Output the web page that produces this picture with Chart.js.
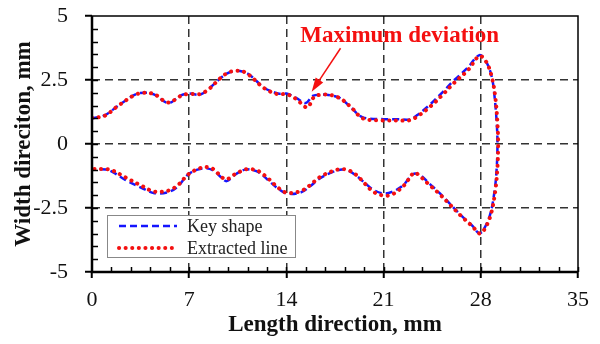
<!DOCTYPE html>
<html>
<head>
<meta charset="utf-8">
<script src="https://cdn.jsdelivr.net/npm/chart.js@4/dist/chart.umd.min.js"></script>
<style>
  html, body { margin: 0; padding: 0; background: #fff; }
  #wrap { width: 600px; height: 344px; }
</style>
</head>
<body>
<div id="wrap"><canvas id="myChart"></canvas></div>
<script>
// key shape outline (top edge left->right, tip, bottom edge right->left)
var keyX = [0, 0.9, 1.9, 3.1, 3.8, 4.5, 5.5, 6.4, 7.0, 7.8, 8.5, 9.1, 9.7, 10.3, 10.9, 11.4, 12.4, 13.4, 14.0, 14.7, 15.4, 15.9, 16.5, 17.2, 17.9, 18.7, 19.5, 21.0, 22.0, 22.9, 23.4, 24.3, 25.2, 26.0, 27.0, 27.9, 28.4, 28.8, 29.0, 29.15, 29.2,
            29.15, 29.0, 28.7, 28.3, 27.9, 27.4, 26.6, 25.8, 25.0, 24.3, 23.6, 23.1, 22.4, 21.6, 21.0, 20.3, 19.6, 19.06, 18.5, 18.0, 17.3, 16.4, 15.6, 15.0, 14.0, 13.3, 12.8, 12.0, 11.4, 11.0, 10.3, 9.7, 9.3, 8.8, 8.2, 7.6, 6.9, 6.2, 5.5, 4.5, 3.6, 2.4, 1.5, 1.0, 0];
var keyY = [1.0, 1.12, 1.5, 1.93, 2.0, 1.93, 1.6, 1.9, 1.97, 1.93, 2.2, 2.5, 2.75, 2.86, 2.82, 2.68, 2.2, 1.97, 1.97, 1.8, 1.6, 1.88, 1.93, 1.9, 1.78, 1.4, 1.04, 0.97, 0.97, 0.96, 1.12, 1.52, 2.0, 2.45, 2.95, 3.47, 3.2, 2.6, 1.8, 0.8, 0,
            -0.9, -1.8, -2.7, -3.25, -3.49, -3.2, -2.8, -2.35, -1.9, -1.55, -1.2, -1.18, -1.62, -1.87, -1.93, -1.8, -1.5, -1.25, -1.05, -1.0, -1.1, -1.35, -1.7, -1.9, -1.93, -1.7, -1.47, -1.1, -1.0, -1.0, -1.2, -1.45, -1.3, -1.05, -0.95, -1.0, -1.2, -1.65, -1.88, -1.92, -1.72, -1.4, -1.1, -1.0, -1.0];

// extracted line, read separately (slightly off the key shape)
var extX = [0, 0.9, 1.9, 3.1, 3.8, 4.5, 5.5, 6.4, 7.0, 7.8, 8.5, 9.1, 9.7, 10.3, 10.9, 11.4, 12.4, 13.4, 14.0, 14.7, 15.5, 16.0, 16.6, 17.3, 18.0, 18.8, 19.5, 21.0, 22.0, 22.9, 23.5, 24.4, 25.3, 26.1, 27.1, 27.9, 28.4, 28.8, 29.05, 29.2, 29.25,
            29.2, 29.05, 28.75, 28.35, 27.95, 27.4, 26.6, 25.8, 25.0, 24.3, 23.6, 23.2, 22.5, 21.7, 21.1, 20.3, 19.6, 19.06, 18.5, 18.0, 17.3, 16.4, 15.6, 15.0, 14.0, 13.3, 12.8, 12.0, 11.4, 11.0, 10.3, 9.7, 9.3, 8.8, 8.2, 7.6, 6.9, 6.2, 5.5, 4.5, 3.6, 2.4, 1.5, 1.0, 0];
var extY = [1.02, 1.1, 1.5, 1.92, 2.0, 1.94, 1.62, 1.88, 1.96, 1.95, 2.18, 2.5, 2.76, 2.86, 2.83, 2.66, 2.18, 1.94, 1.95, 1.76, 1.43, 1.84, 1.93, 1.9, 1.74, 1.36, 1.0, 0.92, 0.92, 0.93, 1.1, 1.48, 1.95, 2.4, 2.9, 3.44, 3.2, 2.6, 1.8, 0.8, 0,
            -0.9, -1.8, -2.7, -3.25, -3.5, -3.22, -2.82, -2.38, -1.94, -1.6, -1.25, -1.12, -1.6, -1.95, -2.02, -1.88, -1.52, -1.22, -1.03, -0.98, -1.06, -1.3, -1.65, -1.85, -1.9, -1.66, -1.4, -1.06, -0.98, -1.0, -1.18, -1.38, -1.28, -1.0, -0.9, -0.98, -1.2, -1.6, -1.82, -1.86, -1.64, -1.3, -1.04, -0.98, -0.98];

var xTicks = [0, 7, 14, 21, 28, 35];
var yTicks = [-5, -2.5, 0, 2.5, 5];
var legendLabels = ["Key shape", "Extracted line"];
var noteText = "Maximum deviation";
var noteAt = [15.0, 4.22];       // text left / middle, in data units
var arrowFrom = [17.9, 3.74];
var arrowTo = [15.82, 2.04];

function toPoints(xs, ys) {
    var pts = [];
    for (var i = 0; i < xs.length; i++) {
        pts.push({ x: xs[i], y: ys[i] });
    }
    return pts;
}

const serif = "'Liberation Serif', 'Times New Roman', serif";

// axis frame, minor ticks, legend box and the note
var extras = {
    id: "extras",
    afterDraw: function (chart) {
        var ctx = chart.ctx;
        var a = chart.chartArea;
        var xs = chart.scales.x, ys = chart.scales.y;
        ctx.save();
        ctx.strokeStyle = "#000";
        ctx.setLineDash([]);
        // minor ticks inside
        ctx.lineWidth = 1.5;
        for (var v = 1.4; v < 35; v += 1.4) {
            var px = Math.round(xs.getPixelForValue(v)) + 0.5;
            ctx.beginPath();
            ctx.moveTo(px, a.bottom);
            ctx.lineTo(px, a.bottom - 5);
            ctx.stroke();
        }
        for (var w = -4.5; w < 5; w += 0.5) {
            var py = Math.round(ys.getPixelForValue(w)) + 0.5;
            ctx.beginPath();
            ctx.moveTo(a.left, py);
            ctx.lineTo(a.left + 6, py);
            ctx.stroke();
        }
        // top and right frame
        ctx.beginPath();
        ctx.moveTo(a.left, a.top);
        ctx.lineTo(a.right, a.top);
        ctx.lineTo(a.right, a.bottom);
        ctx.stroke();
        // left and bottom axis lines
        ctx.lineWidth = 2.5;
        ctx.beginPath();
        ctx.moveTo(a.left, a.top);
        ctx.lineTo(a.left, a.bottom);
        ctx.lineTo(a.right, a.bottom);
        ctx.stroke();

        // legend
        var lx = a.left + 15, ly = a.bottom - 57, lw = 188, lh = 42;
        ctx.fillStyle = "#fff";
        ctx.fillRect(lx, ly, lw, lh);
        ctx.strokeStyle = "#888";
        ctx.lineWidth = 1;
        ctx.strokeRect(lx + 0.5, ly + 0.5, lw, lh);
        ctx.font = "18px " + serif;
        ctx.textBaseline = "middle";
        ctx.textAlign = "left";
        var sets = chart.data.datasets;
        for (var i = 0; i < sets.length; i++) {
            var ds = sets[i];
            var yy = ly + 11 + i * 22;
            ctx.strokeStyle = ds.borderColor;
            ctx.lineWidth = ds.borderWidth;
            ctx.lineCap = ds.borderCapStyle || "butt";
            ctx.setLineDash(ds.borderDash);
            ctx.beginPath();
            ctx.moveTo(lx + 12, yy);
            ctx.lineTo(lx + 70, yy);
            ctx.stroke();
            ctx.setLineDash([]);
            ctx.lineCap = "butt";
            ctx.fillStyle = "#222";
            ctx.fillText(legendLabels[i], lx + 80, yy + 1);
        }

        // note and arrow
        ctx.fillStyle = "#f41010";
        ctx.font = "bold 23px " + serif;
        ctx.fillText(noteText, xs.getPixelForValue(noteAt[0]), ys.getPixelForValue(noteAt[1]));
        var x1 = xs.getPixelForValue(arrowFrom[0]), y1 = ys.getPixelForValue(arrowFrom[1]);
        var x2 = xs.getPixelForValue(arrowTo[0]), y2 = ys.getPixelForValue(arrowTo[1]);
        var ang = Math.atan2(y2 - y1, x2 - x1);
        var head = 14, half = 4.5;
        var bx = x2 - head * Math.cos(ang), by = y2 - head * Math.sin(ang);
        ctx.strokeStyle = "#f41010";
        ctx.lineWidth = 1.5;
        ctx.beginPath();
        ctx.moveTo(x1, y1);
        ctx.lineTo(bx, by);
        ctx.stroke();
        ctx.beginPath();
        ctx.moveTo(x2, y2);
        ctx.lineTo(bx + half * Math.sin(ang), by - half * Math.cos(ang));
        ctx.lineTo(bx - half * Math.sin(ang), by + half * Math.cos(ang));
        ctx.closePath();
        ctx.fill();
        ctx.restore();
    }
};

var data = {
    datasets: [
        {
            label: legendLabels[0],
            data: toPoints(keyX, keyY),
            borderColor: "#1515ff",
            borderWidth: 2.5,
            borderDash: [7, 4],
            pointRadius: 0,
            tension: 0.35,
            showLine: true,
            order: 2
        },
        {
            label: legendLabels[1],
            data: toPoints(extX, extY),
            borderColor: "#f41010",
            borderWidth: 4,
            borderDash: [0.1, 6.5],
            borderCapStyle: "round",
            pointRadius: 0,
            tension: 0.35,
            showLine: true,
            order: 1
        }
    ]
};

function gridColor(edges) {
    return function (c) {
        return (c.tick && edges.indexOf(c.tick.value) !== -1) ? "rgba(0,0,0,0)" : "#333";
    };
}

var config = {
    type: "scatter",
    data: data,
    options: {
        responsive: true,
        maintainAspectRatio: false,
        animation: false,
        layout: { padding: { left: 0, right: 22, top: 16, bottom: 0 } },
        plugins: { legend: { display: false }, tooltip: { enabled: false } },
        scales: {
            x: {
                type: "linear",
                min: 0,
                max: 35,
                afterBuildTicks: function (s) { s.ticks = xTicks.map(function (v) { return { value: v }; }); },
                afterFit: function (s) { s.height = 72; s.paddingLeft = 0; s.paddingRight = 0; },
                ticks: { color: "#111", font: { family: serif, size: 22 }, padding: 9, maxRotation: 0 },
                grid: {
                    color: gridColor([0, 35]),
                    lineWidth: 1.5,
                    tickColor: "#000",
                    tickWidth: 2,
                    tickLength: 6,
                    tickBorderDash: []
                },
                border: { display: false, dash: [8, 5] },
                title: { display: true, text: "Length direction, mm", color: "#111", font: { family: serif, size: 23, weight: "bold" }, padding: { top: 0, bottom: 5 } }
            },
            y: {
                type: "linear",
                min: -5,
                max: 5,
                afterBuildTicks: function (s) { s.ticks = yTicks.map(function (v) { return { value: v }; }); },
                afterFit: function (s) { s.width = 92; s.paddingTop = 0; s.paddingBottom = 0; },
                ticks: {
                    color: "#111",
                    font: { family: serif, size: 22 },
                    padding: 17,
                    callback: function (v) { return String(v); }
                },
                grid: {
                    color: gridColor([-5, 5]),
                    lineWidth: 1.5,
                    tickColor: "#000",
                    tickWidth: 2,
                    tickLength: 7,
                    tickBorderDash: []
                },
                border: { display: false, dash: [8, 5] },
                title: { display: true, text: "Width direciton, mm", color: "#111", font: { family: serif, size: 23, weight: "bold" }, padding: { top: 10, bottom: 0 } }
            }
        }
    },
    plugins: [extras]
};

var myChart = new Chart(document.getElementById("myChart"), config);
</script>
</body>
</html>
